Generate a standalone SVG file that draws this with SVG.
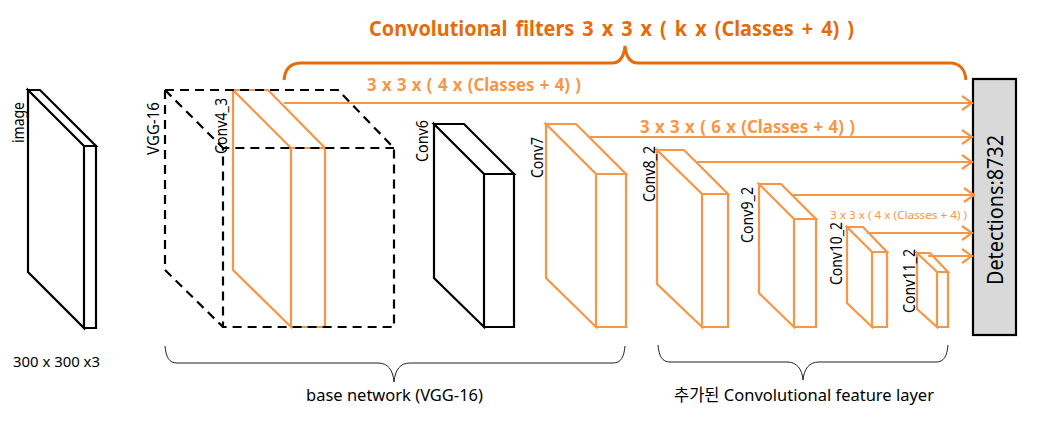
<svg xmlns="http://www.w3.org/2000/svg" width="1038" height="421" viewBox="0 0 1038 421">
<style>
text{font-family:"Noto Sans","Noto Sans CJK KR",sans-serif;fill:#000}
.k{fill:#fff;stroke:#000;stroke-width:2.2;stroke-linejoin:miter}
.o{fill:#fff;stroke:#f79646;stroke-width:2.2;stroke-linejoin:miter}
.d{fill:none;stroke:#000;stroke-width:2.2;stroke-dasharray:9 6}
.a{fill:none;stroke:#f79646;stroke-width:2.2;marker-end:url(#ah)}
.l{font-size:16.5px}
.t{fill:#f79646;font-weight:700;font-size:17px;word-spacing:1px}
.b{fill:none;stroke:#222;stroke-width:1}
</style>
<defs>
<marker id="ah" markerUnits="userSpaceOnUse" markerWidth="14" markerHeight="16" refX="12" refY="8" orient="auto"><path d="M2 1L12 8L2 15" fill="none" stroke="#f79646" stroke-width="2.2"/></marker>
</defs>
<g id="image">
<path class="k" d="M28 90H40L96 146H84ZM28 90L84 146V328L28 272ZM84 146H96V328H84Z"/>
<text class="l" transform="translate(24 143) rotate(-90)" textLength="41" lengthAdjust="spacingAndGlyphs">image</text>
<text x="13" y="367" font-size="14.5" textLength="87" lengthAdjust="spacingAndGlyphs">300 x 300 x3</text>
</g>
<g id="conv4_3">
<path class="o" style="fill:none" d="M233 90H268L325 148H291ZM233 90V270L291 327V148M291 327H325V148"/>
</g>
<g id="vgg16">
<path class="d" d="M165 90H338L394 148V327H223V148H394M165 90V270L223 327M165 90L223 148"/>
<text class="l" transform="translate(159 155) rotate(-90)" textLength="53" lengthAdjust="spacingAndGlyphs">VGG-16</text>
<text class="l" transform="translate(227 154) rotate(-90)" textLength="56" lengthAdjust="spacingAndGlyphs">Conv4_3</text>
</g>
<g id="conv6">
<path class="k" d="M434 124H464L514 174H484ZM434 124L484 174V327L434 278ZM484 174H514V327H484Z"/>
<text class="l" transform="translate(428 162) rotate(-90)" textLength="42" lengthAdjust="spacingAndGlyphs">Conv6</text>
</g>
<g id="conv7">
<path class="o" d="M546 124H576L626 174H596ZM546 124L596 174V327L546 278ZM596 174H626V327H596Z"/>
<text class="l" transform="translate(543 178) rotate(-90)" textLength="41" lengthAdjust="spacingAndGlyphs">Conv7</text>
</g>
<g id="conv8_2">
<path class="o" d="M657 150H684L728 194H702ZM657 150L702 194V327L657 284ZM702 194H728V327H702Z"/>
<text class="l" transform="translate(655 202) rotate(-90)" textLength="56" lengthAdjust="spacingAndGlyphs">Conv8_2</text>
</g>
<g id="conv9_2">
<path class="o" d="M759 184H781L816 219H794ZM759 184L794 219V327L759 293ZM794 219H816V327H794Z"/>
<text class="l" transform="translate(753 243) rotate(-90)" textLength="56" lengthAdjust="spacingAndGlyphs">Conv9_2</text>
</g>
<g id="conv10_2">
<path class="o" d="M847 227H863L887 252H872ZM847 227L872 252V327L847 303ZM872 252H887V327H872Z"/>
<text class="l" transform="translate(842 285) rotate(-90)" textLength="63" lengthAdjust="spacingAndGlyphs">Conv10_2</text>
</g>
<g id="conv11_2">
<path class="o" d="M917 253H930L948 272H937ZM917 253L937 272V327L917 309ZM937 272H948V327H937Z"/>
<text class="l" transform="translate(915 313) rotate(-90)" textLength="64" lengthAdjust="spacingAndGlyphs">Conv11_2</text>
</g>
<g id="detections">
<rect x="973" y="79" width="43" height="256" fill="#d9d9d9" stroke="#000" stroke-width="2.2"/>
<text transform="translate(1003 285) rotate(-90)" font-size="22" textLength="150" lengthAdjust="spacingAndGlyphs">Detections:8732</text>
</g>
<g id="connectors">
<path class="a" d="M284 103H972"/>
<path class="a" d="M590 137H972"/>
<path class="a" d="M697 162H972"/>
<path class="a" d="M793 195H974"/>
<path class="a" d="M867 233H972"/>
<path class="a" d="M928 256H972"/>
</g>
<g id="braces">
<path fill="none" stroke="#e46c0a" stroke-width="3" d="M284 80C285 69 291 63 301 63H612C620 63 624 56 625 46C626 56 630 63 638 63H950C959 63 965 69 966 80"/>
<path class="b" d="M165 346C166 357 169 363 177 363H378C388 363 393 370 394 382C395 370 400 363 410 363H613C621 363 624 357 625 346"/>
<path class="b" d="M658 345C659 356 662 362 670 362H787C797 362 802 369 803 380C804 369 809 362 819 362H936C944 362 947 356 948 345"/>
</g>
<g id="labels">
<text x="369" y="36" font-size="21" font-weight="700" style="fill:#e46c0a;word-spacing:3px" textLength="485" lengthAdjust="spacingAndGlyphs">Convolutional filters 3 x 3 x ( k x (Classes + 4) )</text>
<text class="t" x="367" y="91" textLength="214" lengthAdjust="spacingAndGlyphs">3 x 3 x ( 4 x (Classes + 4) )</text>
<text class="t" x="640" y="133" textLength="215" lengthAdjust="spacingAndGlyphs">3 x 3 x ( 6 x (Classes + 4) )</text>
<text x="830" y="219" font-size="11" style="fill:#f79646" textLength="137" lengthAdjust="spacingAndGlyphs">3 x 3 x ( 4 x (Classes + 4) )</text>
<text x="306" y="401" font-size="16.5" textLength="177" lengthAdjust="spacingAndGlyphs">base network (VGG-16)</text>
<text x="674" y="401" font-size="16.5" textLength="260" lengthAdjust="spacingAndGlyphs">추가된 Convolutional feature layer</text>
</g>
</svg>
